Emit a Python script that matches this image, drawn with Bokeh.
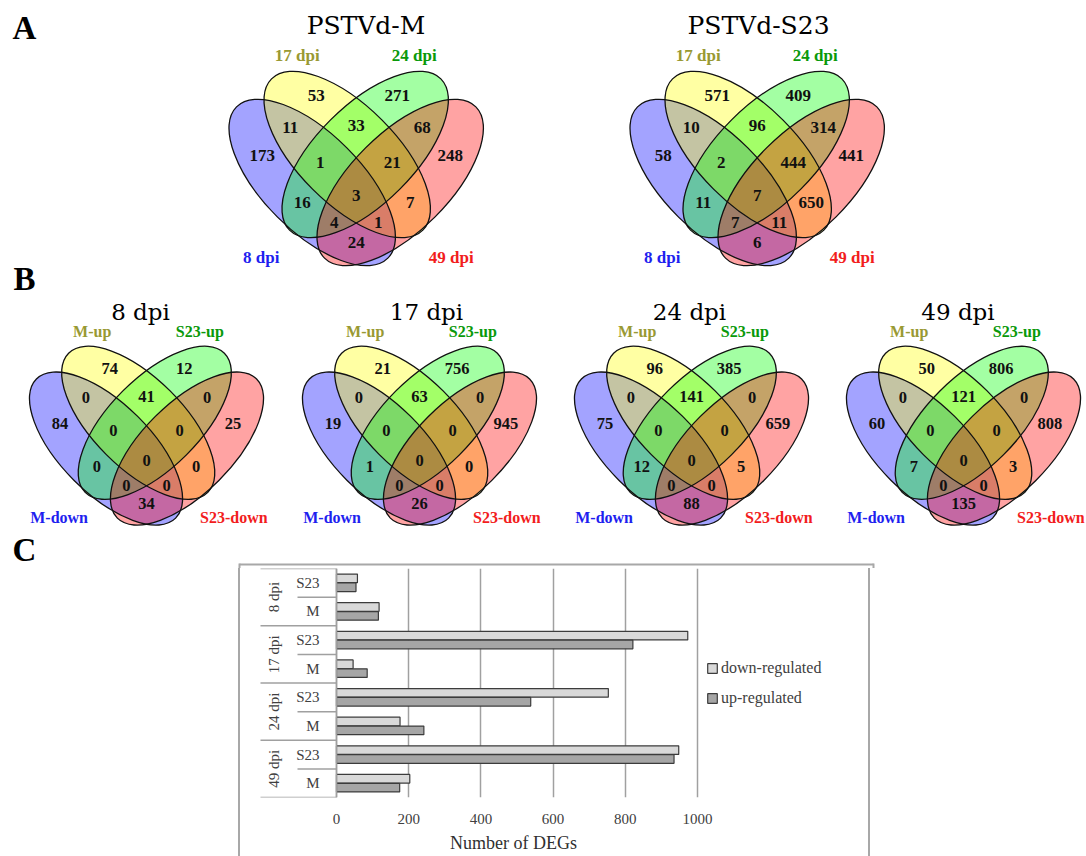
import math
from bokeh.plotting import figure
from bokeh.models import (Range1d, FactorRange, ColumnDataSource, FixedTicker,
                          Legend, LegendItem, Title, Spacer)
from bokeh.layouts import column, row
from bokeh.transform import dodge
from bokeh.core.properties import value
from bokeh.embed import file_html
from bokeh.resources import INLINE

# ---------------- data ----------------
# region order: Y, G, BY, YG, GR, B, BYG, YGR, R, BYGR, BG, YR, BGR, BYR, BR
regions = ["Y", "G", "BY", "YG", "GR", "B", "BYG", "YGR", "R", "BYGR", "BG", "YR", "BGR", "BYR", "BR"]

a_titles = ["PSTVd-M", "PSTVd-S23"]
a_sets = ["8 dpi", "17 dpi", "24 dpi", "49 dpi"]
a_counts_M = [53, 271, 11, 33, 68, 173, 1, 21, 248, 3, 16, 7, 4, 1, 24]
a_counts_S23 = [571, 409, 10, 96, 314, 58, 2, 444, 441, 7, 11, 650, 7, 11, 6]

b_titles = ["8 dpi", "17 dpi", "24 dpi", "49 dpi"]
b_sets = ["M-down", "M-up", "S23-up", "S23-down"]
b_counts_8 = [74, 12, 0, 41, 0, 84, 0, 0, 25, 0, 0, 0, 0, 0, 34]
b_counts_17 = [21, 756, 0, 63, 0, 19, 0, 0, 945, 0, 1, 0, 0, 0, 26]
b_counts_24 = [96, 385, 0, 141, 0, 75, 0, 0, 659, 0, 12, 5, 0, 0, 88]
b_counts_49 = [50, 806, 0, 121, 0, 60, 0, 0, 808, 0, 7, 3, 0, 0, 135]

c_groups = ["8 dpi", "17 dpi", "24 dpi", "49 dpi"]
c_strains = ["S23", "M"]
c_down_S23 = [58, 973, 753, 948]
c_up_S23 = [54, 821, 538, 935]
c_down_M = [118, 46, 176, 203]
c_up_M = [116, 85, 242, 175]
c_series = ["down-regulated", "up-regulated"]
c_xticks = [0, 200, 400, 600, 800, 1000]
c_xlabel = "Number of DEGs"

# ---------------- styling / layout ----------------
SET_FILL = ["#0000ff", "#ffff00", "#00ff00", "#ff0000"]      # blue, yellow, green, red
SET_ALPHA = 0.36
SET_LABEL = ["#1f1fef", "#999933", "#0a990a", "#f21d1d"]
ELL = [(-44, -13, -1), (-9, -41, -1), (9, -41, 1), (44, -13, 1)]
EA, EB = 107, 49
REG_OFF = {
    "Y": (-40, -100), "G": (41, -100),
    "BY": (-66, -68), "YG": (0, -70), "GR": (66, -68),
    "B": (-94, -40), "BYG": (-36, -33), "YGR": (36, -33), "R": (94, -40),
    "BYGR": (0, 0), "BG": (-54, 7), "YR": (54, 7),
    "BGR": (-22, 27), "BYR": (22, 27), "BR": (0, 47),
}
LAB_OFF = [(-95, 62), (-59, -140), (58, -140), (95, 62)]
SERIF = "Liberation Serif"
BOX_COLOR = "#a8a8a8"


def draw_venn(p, cx, cy, s, counts, sets, num_size, lab_size):
    xs = [cx + dx * s for dx, dy, o in ELL]
    ys = [-(cy + dy * s) for dx, dy, o in ELL]
    ang = [o * math.pi / 4 for dx, dy, o in ELL]
    p.ellipse(x=xs, y=ys, width=2 * EA * s, height=2 * EB * s, angle=ang,
              fill_color=SET_FILL, fill_alpha=SET_ALPHA, line_color=None)
    p.ellipse(x=xs, y=ys, width=2 * EA * s, height=2 * EB * s, angle=ang,
              fill_color=None, line_color="#111111", line_width=1.3)
    tx = [cx + REG_OFF[r][0] * s for r in regions]
    ty = [-(cy + REG_OFF[r][1] * s) for r in regions]
    p.text(x=tx, y=ty, text=[str(c) for c in counts], text_font=value(SERIF),
           text_font_style="bold", text_font_size=num_size, text_align="center",
           text_baseline="middle", text_color="#111111")
    lx = [cx + o[0] * s for o in LAB_OFF]
    ly = [-(cy + o[1] * s) for o in LAB_OFF]
    p.text(x=lx, y=ly, text=sets, text_font=value(SERIF), text_font_style="bold",
           text_font_size=lab_size, text_align="center", text_baseline="middle",
           text_color=SET_LABEL)


TOP_W, TOP_H = 1086, 568
top = figure(width=TOP_W, height=TOP_H, x_range=Range1d(0, TOP_W), y_range=Range1d(-TOP_H, 0),
             toolbar_location=None, output_backend="svg", x_axis_location=None,
             y_axis_location=None, min_border=0)
top.grid.visible = False
top.outline_line_color = None

# panel letters
top.text(x=[24, 24, 24], y=[-27, -278, -549], text=["A", "B", "C"], text_font=value(SERIF),
         text_font_style="bold", text_font_size="33px", text_align="center",
         text_baseline="middle", text_color="black")

# panel A
a_cx = [355.7, 756.7]
for cx, counts in zip(a_cx, [a_counts_M, a_counts_S23]):
    draw_venn(top, cx, 195, 1.0, counts, a_sets, "17px", "17px")
top.text(x=[365.5, 758], y=[-25, -25], text=a_titles, text_font=value("DejaVu Serif"),
         text_font_size="25px", text_align="center", text_baseline="middle",
         text_color="black")

# panel B
b_cx = [146, 419, 691, 963]
for cx, counts in zip(b_cx, [b_counts_8, b_counts_17, b_counts_24, b_counts_49]):
    draw_venn(top, cx, 460, 0.92, counts, b_sets, "16.5px", "16px")
top.text(x=[140, 426, 689, 957.5], y=[-311] * 4, text=b_titles, text_font=value("DejaVu Serif"),
         text_font_size="23px", text_align="center", text_baseline="middle",
         text_color="black")

# ---------------- panel C ----------------
SPACER_W = 238
BAR_W, BAR_H = 632, 288
BOX_TOP = 563
# top edge of the frame box around panel C (the rest continues as CSS borders below)
box_l, box_r = SPACER_W + 1, SPACER_W + 2 + BAR_W + 1
top.segment(x0=[box_l, box_l, box_r], x1=[box_r, box_l, box_r],
            y0=[-BOX_TOP - 1, -BOX_TOP, -BOX_TOP], y1=[-BOX_TOP - 1, -TOP_H, -TOP_H],
            line_color=BOX_COLOR, line_width=2)

factors = [(g, s) for g in c_groups[::-1] for s in c_strains[::-1]]
yr = FactorRange(factors=factors, factor_padding=0, group_padding=0,
                 subgroup_padding=0, range_padding=0)

ZERO_PX, PLOT_PX = 96, 361          # px from figure left to 0, px for 1000
px_per = PLOT_PX / 1000.0
xr = Range1d(-ZERO_PX / px_per, (BAR_W - ZERO_PX) / px_per)

bar = figure(width=BAR_W, height=BAR_H, x_range=xr, y_range=yr, toolbar_location=None,
             output_backend="svg", min_border_left=0, min_border_right=0,
             min_border_top=0, min_border_bottom=56,
             styles={"border-left": "2px solid " + BOX_COLOR,
                     "border-right": "2px solid " + BOX_COLOR})
bar.outline_line_color = None
bar.ygrid.visible = False
bar.xgrid.ticker = FixedTicker(ticks=c_xticks)
bar.xgrid.grid_line_color = "#a0a0a0"
bar.xgrid.grid_line_width = 1.5

xa = bar.xaxis[0]
xa.ticker = FixedTicker(ticks=c_xticks)
xa.axis_line_color = None
xa.major_tick_line_color = None
xa.minor_tick_line_color = None
xa.major_label_standoff = 10
xa.major_label_text_font = SERIF
xa.major_label_text_font_size = "15px"
xa.major_label_text_color = "#404040"

ya = bar.yaxis[0]
ya.fixed_location = 0
ya.axis_line_color = "#a0a0a0"
ya.axis_line_width = 1.5
ya.major_tick_line_color = None
ya.minor_tick_line_color = None
ya.major_label_standoff = 11
ya.major_label_text_font = SERIF
ya.major_label_text_font_size = "15px"
ya.major_label_text_color = "#404040"
ya.group_text_font = SERIF
ya.group_text_font_size = "15px"
ya.group_text_color = "#404040"
ya.group_text_font_style = "normal"
ya.separator_line_color = None

# table lines of the category area
n = len(factors)
grp_y = list(range(0, n + 1, len(c_strains)))
sub_y = [v for v in range(1, n) if v % len(c_strains)]
bar.segment(x0=-(ZERO_PX - 20) / px_per, x1=0, y0=grp_y, y1=grp_y, line_color="#a0a0a0", line_width=1.5)
bar.segment(x0=-(ZERO_PX - 57) / px_per, x1=0, y0=sub_y, y1=sub_y, line_color="#a0a0a0", line_width=1.5)

cats, downs, ups = [], [], []
for i, g in enumerate(c_groups):
    cats.append((g, "S23")); downs.append(c_down_S23[i]); ups.append(c_up_S23[i])
    cats.append((g, "M")); downs.append(c_down_M[i]); ups.append(c_up_M[i])
src = ColumnDataSource(dict(cat=cats, down=downs, up=ups))

r_down = bar.hbar(y=dodge("cat", 0.155, range=yr), left=0, right="down", height=0.3, source=src,
                  fill_color="#d9d9d9", line_color="#3c3c3c", line_width=1.2)
r_up = bar.hbar(y=dodge("cat", -0.155, range=yr), left=0, right="up", height=0.3, source=src,
                fill_color="#a6a6a6", line_color="#3c3c3c", line_width=1.2)

leg = Legend(items=[LegendItem(label=c_series[0], renderers=[r_down]),
                    LegendItem(label=c_series[1], renderers=[r_up])],
             location=(466, 90), orientation="vertical", padding=0, margin=0, spacing=12,
             glyph_width=12, glyph_height=12, label_standoff=3, border_line_color=None,
             background_fill_alpha=0, label_text_font=SERIF, label_text_font_size="16px",
             label_text_color="#404040")
bar.add_layout(leg)

# x-axis title, centred under the 0..1000 span
title_w = 134
bar.add_layout(Title(text=c_xlabel, align="left", offset=ZERO_PX + PLOT_PX / 2 - title_w / 2,
                     standoff=8, text_font=SERIF, text_font_size="18px",
                     text_font_style="normal", text_color="#303030"), "below")

layout = column(top, row(Spacer(width=SPACER_W, height=BAR_H), bar))

open("out.html", "w").write(file_html(layout, INLINE))
